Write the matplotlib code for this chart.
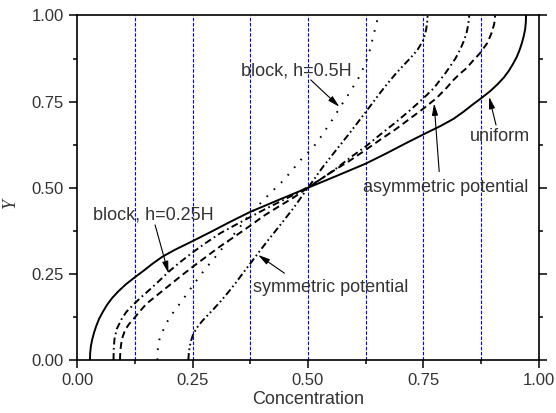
import matplotlib
matplotlib.use("Agg")
import matplotlib.pyplot as plt

plt.rcParams['font.family'] = ['Liberation Sans', 'DejaVu Sans']
plt.rcParams['lines.scale_dashes'] = False

# Curves: concentration (x) against Y
uniform_y = [0, .02, .04, .06, .08, .10, .12, .14, .16, .18, .20, .22, .24, .26, .28, .30, .32,
             .345, .37, .40, .43, .465, .5, .535, .57, .60, .63, .655, .68, .70, .72, .74, .76,
             .78, .80, .82, .84, .86, .88, .90, .92, .94, .96, .98, 1.0]
uniform_x = [.028, .0285, .030, .033, .037, .042, .048, .056, .065, .076, .090, .106, .125, .145,
             .164, .185, .212, .250, .287, .330, .375, .437, .5, .563, .625, .670, .713, .750,
             .788, .815, .836, .855, .875, .894, .910, .924, .935, .944, .952, .958, .963, .967,
             .970, .9715, .972]

asym_y = [0, .03, .06, .09, .12, .14, .158, .18, .205, .23, .258, .285, .312, .34, .368, .39,
          .415, .44, .46, .48, .502, .53, .555, .59, .62, .655, .69, .725, .76, .79, .813, .83,
          .851, .875, .90, .925, .948, .975, 1.0]
asym_x = [.079, .0795, .081, .086, .097, .107, .120, .137, .158, .178, .200, .224, .250, .279,
          .310, .340, .375, .410, .440, .470, .500, .534, .560, .594, .625, .657, .690, .721,
          .750, .773, .786, .796, .807, .819, .829, .837, .843, .847, .849]

block25_y = [0, .03, .06, .087, .105, .12, .14, .164, .19, .218, .245, .27, .30, .33, .36, .39,
             .42, .445, .47, .5, .53, .555, .58, .61, .64, .67, .70, .73, .76, .79, .813, .83,
             .847, .87, .89, .92, .948, .975, 1.0]
block25_x = [.093, .094, .097, .104, .113, .123, .135, .151, .175, .201, .226, .250, .280, .310,
             .343, .375, .406, .436, .467, .5, .533, .562, .592, .625, .657, .690, .720, .750,
             .778, .800, .815, .828, .843, .858, .872, .888, .897, .903, .905]

block50_y = [0, .02, .04, .058, .078, .097, .115, .131, .148, .164, .19, .215, .26, .30, .34,
             .38, .424, .455, .484, .52, .561, .59, .612, .64, .67, .70, .735, .774, .80, .822,
             .845, .871, .90, .938, .96, .98, 1.0]
block50_x = [.174, .1743, .1755, .178, .1835, .190, .197, .205, .213, .223, .237, .250, .275,
             .300, .324, .349, .375, .397, .418, .446, .472, .490, .508, .524, .539, .554, .570,
             .589, .601, .611, .619, .627, .634, .641, .645, .649, .651]

sym_y = [0, .02, .039, .056, .073, .088, .100, .113, .126, .147, .169, .196, .223, .25, .28,
         .31, .345, .387, .44, .5, .56, .613, .655, .69, .72, .75, .777, .804, .831, .853, .874,
         .90, .927, .944, .961, .98, 1.0]
sym_x = [.241, .242, .244, .247, .251, .257, .263, .271, .280, .295, .310, .327, .343, .358,
         .375, .392, .412, .437, .468, .5, .532, .563, .588, .608, .625, .642, .657, .673, .690,
         .705, .720, .737, .749, .753, .756, .758, .759]

grid_x = [0.125, 0.25, 0.375, 0.5, 0.625, 0.75, 0.875]
ticks = [0.0, 0.25, 0.5, 0.75, 1.0]
tick_labels = ["0.00", "0.25", "0.50", "0.75", "1.00"]

fig = plt.figure(figsize=(5.56, 4.13), dpi=100)
ax = fig.add_axes([0.1385, 0.1283, 0.8309, 0.8342])

for gx in grid_x:
    ax.axvline(gx, color="blue", lw=0.8, ls=(0, (2.5, 1.2)), zorder=1)

lw = 1.4
ax.plot(uniform_x, uniform_y, color="black", lw=lw, ls="-")
ax.plot(asym_x, asym_y, color="black", lw=lw, ls=(0, (5, 2.5, 1.2, 2.5)))
ax.plot(block25_x, block25_y, color="black", lw=lw, ls=(0, (5, 3)))
ax.plot(block50_x, block50_y, color="black", lw=lw, ls=(0, (1.2, 6)))
ax.plot(sym_x, sym_y, color="black", lw=lw, ls=(0, (5, 2.2, 1.2, 2.2, 1.2, 2.2)))

txt = "#333333"
arrow = dict(arrowstyle="-|>,head_length=0.7,head_width=0.18", color="black", lw=0.8,
             shrinkA=0, shrinkB=0)
ax.annotate("", xy=(0.568, 0.735), xytext=(0.506, 0.813), arrowprops=arrow)
ax.text(0.354, 0.839, "block, h=0.5H", fontsize=13, color=txt, va="center", ha="left")
ax.annotate("", xy=(0.198, 0.252), xytext=(0.169, 0.392), arrowprops=arrow)
ax.text(0.034, 0.421, "block, h=0.25H", fontsize=13, color=txt, va="center", ha="left")
ax.annotate("", xy=(0.392, 0.305), xytext=(0.449, 0.252), arrowprops=arrow)
ax.text(0.382, 0.21, "symmetric potential", fontsize=13, color=txt, va="center", ha="left")
ax.annotate("", xy=(0.892, 0.764), xytext=(0.907, 0.682), arrowprops=arrow)
ax.text(0.851, 0.65, "uniform", fontsize=13, color=txt, va="center", ha="left")
ax.annotate("", xy=(0.773, 0.745), xytext=(0.784, 0.547), arrowprops=arrow)
ax.text(0.619, 0.50, "asymmetric potential", fontsize=13, color=txt, va="center", ha="left")

ax.set_xlim(0, 1)
ax.set_ylim(0, 1)
ax.set_xticks(ticks)
ax.set_xticklabels(tick_labels)
ax.set_yticks(ticks)
ax.set_yticklabels(tick_labels)
ax.set_xticks(grid_x, minor=True)
ax.set_yticks(grid_x, minor=True)
ax.tick_params(which="major", direction="out", length=6, width=1.1, labelsize=12,
               labelcolor=txt, right=True, top=False)
ax.tick_params(which="minor", direction="out", length=3.2, width=1.1, right=True, top=False)
for s in ax.spines.values():
    s.set_linewidth(1.2)

ax.set_xlabel("Concentration", fontsize=13, color=txt, labelpad=2)
ax.set_ylabel("Y", fontsize=13, family="Liberation Serif", style="italic", color=txt)
ax.yaxis.set_label_coords(-0.125, 0.456)

fig.savefig("out.png", dpi=100)
